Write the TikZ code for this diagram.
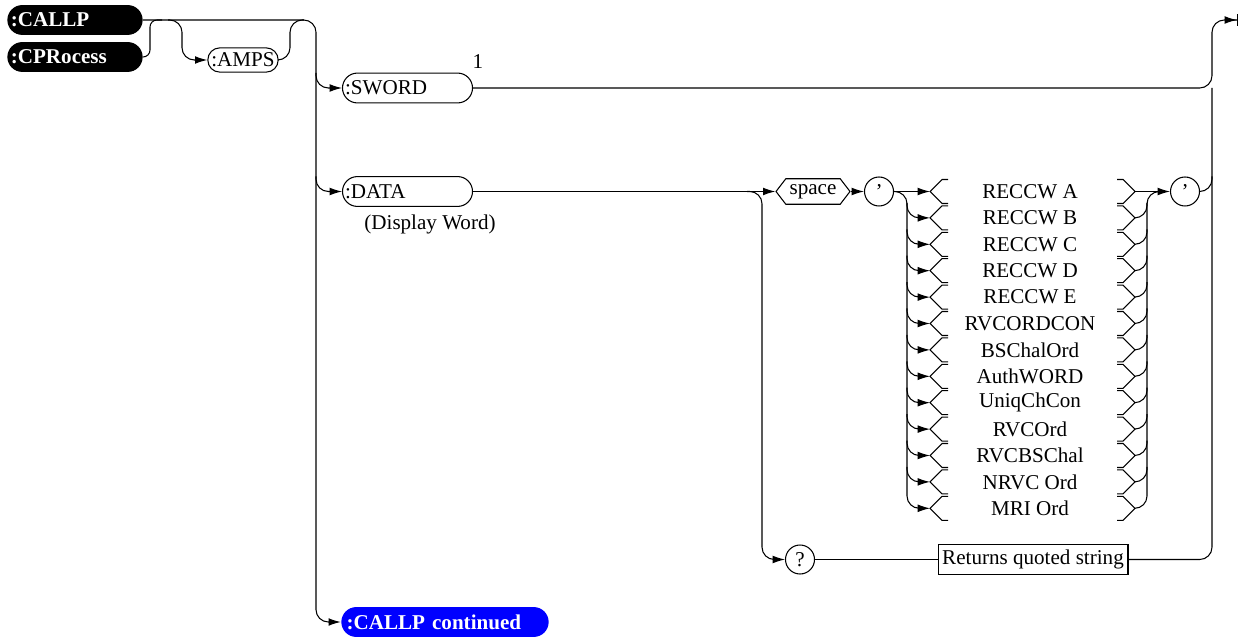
\documentclass[tikz,border=0pt]{standalone}
\usepackage{fontspec}
\setmainfont{Liberation Serif}
\usetikzlibrary{arrows.meta,positioning,calc,shapes.symbols}

\begin{document}
\begin{tikzpicture}[x=0.02cm, y=-0.02cm,
  font=\fontsize{12}{14}\selectfont, line width=0.6pt,
  arr/.style={-{Latex[length=7pt,width=4.4pt]}},
  rail/.style={rounded corners=7pt},
  blackpill/.style={rectangle, rounded corners=8.5pt, fill=black, text=white, font=\fontsize{12}{14}\selectfont\bfseries, align=left, text width=73pt, inner xsep=2pt, inner ysep=0pt, minimum height=17pt},
  cmdpill/.style={draw, rectangle, rounded corners=8.5pt, align=left, text width=71pt, inner xsep=1.5pt, inner ysep=0pt, minimum height=17pt},
  quotecirc/.style={draw, circle, inner sep=0pt, minimum size=16.5pt}]
\useasboundingbox (0,0) rectangle (1240,638);
% rails (x positions in px)
\coordinate (railL) at (316,0);
\coordinate (railR) at (1212,0);
\coordinate (optrail) at (907,0);
\coordinate (backrail) at (1147,0);
\coordinate (cpJoin) at (150,20);
\coordinate (ampsIn) at (182,20);
\coordinate (ampsOut) at (290,20);
\coordinate (qfork) at (762,191.5);
\coordinate (stop) at (1238,20);

% keywords
\node[blackpill] (callp) at (75,20) {:CALLP};
\node[blackpill] (cproc) at (75,57) {:CPRocess};
\node[draw, rounded corners=6.8pt, inner xsep=2pt, inner ysep=0pt, minimum height=13.8pt] (amps) at (243,60) {:AMPS};
\node[cmdpill] (sword) at (407.5,88) {:SWORD};
\node (note) at (478,62) {1};
\node[cmdpill] (data) at (407.5,191.5) {:DATA};
\node (dispword) at (430,224) {(Display Word)};
\node[draw, signal, signal to=west and east, signal pointer angle=105, inner xsep=2pt, inner ysep=0pt, minimum height=14.5pt, minimum width=1.48cm] (space) at (813,191.5) {space};
\node[quotecirc] (q1) at (879,191.5) {'};
\node[quotecirc] (q2) at (1185,191.5) {'};
\node[quotecirc] (qmark) at (800,559.5) {?};
\node[draw, inner sep=2pt, minimum height=17.6pt, minimum width=3.8cm] (ret) at (1033,559.5) {Returns quoted string};
\node[blackpill, fill=blue, text width=112pt, inner xsep=3pt] (cont) at (445,622) {:CALLP continued};

% header part
\draw[rail,arr] (callp.east) -- (railL |- callp.east) -- (railL |- cont.west) -- (cont.west);
\draw[rounded corners=4pt] (cproc.east) -- (cpJoin |- cproc.east) -- (cpJoin) -- ++(12,0);
\draw[rail,arr] ($(ampsIn)+(-14,0)$) -- (ampsIn) -- (ampsIn |- amps.west) -- (amps.west);
\draw[rail] (amps.east) -- (ampsOut |- amps.east) -- (ampsOut) -- ++(14,0);
\draw[rail,arr] ($(railL |- sword.west)+(0,-15)$) -- (railL |- sword.west) -- (sword.west);
\draw[rail,arr] ($(railL |- data.west)+(0,-15)$) -- (railL |- data.west) -- (data.west);

% :DATA branch
\draw[arr] (data.east) -- (space.west);
\draw[arr] (space.east) -- (q1.west);
\draw[rail,arr] ($(qfork)+(-15,0)$) -- (qfork) -- (qfork |- qmark.west) -- (qmark.west);
\draw (qmark.east) -- (ret.west);

% display words with bracket ends
\foreach \t [count=\i] in {RECCW A, RECCW B, RECCW C, RECCW D, RECCW E, RVCORDCON, BSChalOrd, AuthWORD, UniqChCon, RVCOrd, RVCBSChal, NRVC Ord, MRI Ord} {
  \node (opt\i) at (1030,{191.5+26.4*(\i-1)}) {\t};
  \coordinate (optL\i) at (930,{191.5+26.4*(\i-1)});
  \coordinate (optR\i) at (1135,{191.5+26.4*(\i-1)});
  \draw (optL\i) ++(18,-12) -- ++(-6,0) -- (optL\i) -- ++(12,12) -- ++(6,0);
  \draw (optR\i) ++(-18,-12) -- ++(6,0) -- (optR\i) -- ++(-12,12) -- ++(-6,0);
}
\draw[arr] (q1.east) -- (optL1);
\draw[rail,arr] (q1.east) -- (optrail |- q1.east) -- (optrail |- optL13) -- (optL13);
\foreach \i in {2,...,12}
  \draw[rail,arr] ($(optrail |- optL\i)+(0,-15)$) -- (optrail |- optL\i) -- (optL\i);
\draw[arr] (optR1) -- (q2.west);
\draw[rail] (optR13) -- (backrail |- optR13) -- (backrail |- optR1) -- ++(14,0);
\foreach \i in {2,...,12}
  \draw[rail] (optR\i) -- (backrail |- optR\i) -- ++(0,-15);

% right rail to the end
\draw[rail,-{Latex[length=7pt,width=4.4pt]Bar[width=6.5pt]}] (sword.east) -- (railR |- sword.east) -- (railR |- stop) -- (stop);
\draw[rail] (q2.east) -- (railR |- q2.east) -- ++(0,-15);
\draw[rail] (ret.east) -- (railR |- ret.east) -- (railR |- sword.east);
\end{tikzpicture}
\end{document}
